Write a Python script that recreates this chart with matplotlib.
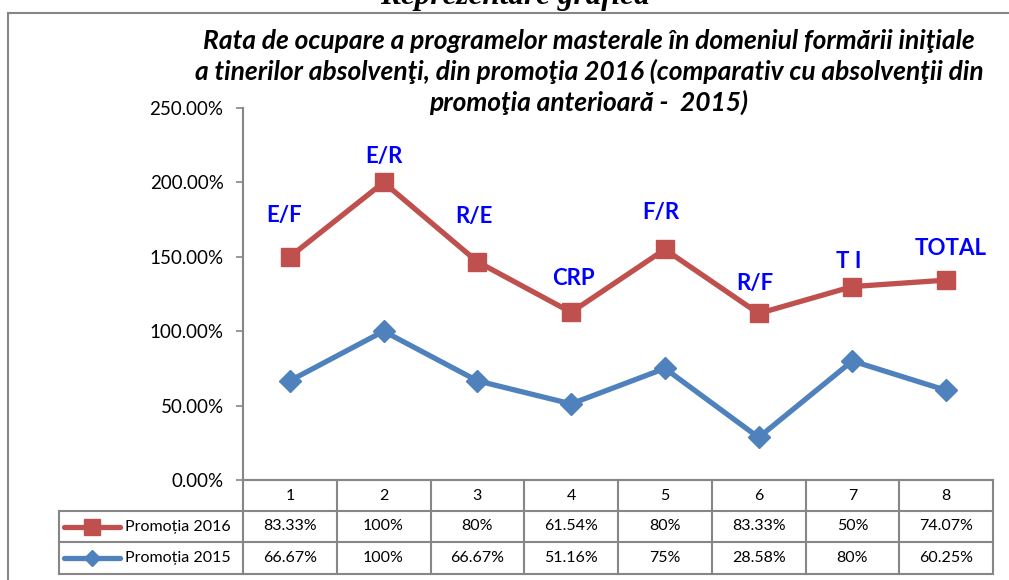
import matplotlib
matplotlib.use("Agg")
import matplotlib.pyplot as plt
import numpy as np

categories = ["1", "2", "3", "4", "5", "6", "7", "8"]
point_labels = ["E/F", "E/R", "R/E", "CRP", "F/R", "R/F", "T I", "TOTAL"]
p2016 = np.array([83.33, 100, 80, 61.54, 80, 83.33, 50, 74.07])
p2015 = np.array([66.67, 100, 66.67, 51.16, 75, 28.58, 80, 60.25])
p2016_text = ["83.33%", "100%", "80%", "61.54%", "80%", "83.33%", "50%", "74.07%"]
p2015_text = ["66.67%", "100%", "66.67%", "51.16%", "75%", "28.58%", "80%", "60.25%"]
series_names = ["Promoția 2016", "Promoția 2015"]
title_lines = ["Rata de ocupare a programelor masterale în domeniul formării iniţiale",
               "a tinerilor absolvenţi, din promoţia 2016 (comparativ cu absolvenţii din",
               "promoţia anterioară -  2015)"]

# excel "stacked line": 2016 series drawn on top of 2015
stacked_2016 = p2015 + p2016

# label offsets in pixels (manual placement, like in the original)
label_dx = [-6, 0, -3, 2, -4, -4, -4, 4]
label_dy = [41, 26, 45, 34, 37, 30, 25, 32]

RED = "#C0504D"
BLUE = "#4F81BD"
GRID = "#868686"

plt.rcParams['font.family'] = ['Lato', 'DejaVu Sans']

W, H = 1009, 580
fig = plt.figure(figsize=(W / 100, H / 100), dpi=100)


def fx(px):
    return px / W


def fy(py):
    return 1 - py / H


# outer chart frame (cut by the page edge on the right / bottom)
fig.add_artist(plt.Line2D([fx(8), fx(1009)], [fy(13), fy(13)], color=GRID, lw=1.5))
fig.add_artist(plt.Line2D([fx(8), fx(8)], [fy(13), 0], color=GRID, lw=1.5))

# cut heading from the document page above the chart
fig.text(fx(515), fy(4), "Reprezentare grafică", family="Liberation Serif",
         fontsize=22.5, fontweight="bold", fontstyle="italic",
         ha="center", va="baseline")

for k, line in enumerate(title_lines):
    fig.text(fx(589), fy(49 + 31 * k), line, fontsize=19, fontweight="bold",
             fontstyle="italic", ha="center", va="baseline")

ax = fig.add_axes([fx(243), fy(480), fx(993) - fx(243), fy(108) - fy(480)])
x = np.arange(len(categories))

ax.plot(x, p2015, color=BLUE, lw=3.8, marker="D", markersize=11, zorder=3)
ax.plot(x, stacked_2016, color=RED, lw=3.8, marker="s", markersize=13, zorder=3)

for i, lab in enumerate(point_labels):
    ax.annotate(lab, (x[i], stacked_2016[i]), xytext=(label_dx[i], label_dy[i]),
                textcoords="offset pixels", ha="center", va="center",
                fontsize=16, fontweight="bold", color="#0000FF")

ax.set_xlim(-0.5, 7.5)
ax.set_ylim(0, 250)
ax.set_yticks(np.arange(0, 251, 50))
ax.set_yticklabels(["%.2f%%" % v for v in np.arange(0, 251, 50)], fontsize=13.5)
ax.set_xticks([])
ax.tick_params(axis="y", length=5, width=1.2, color=GRID, pad=9)
for s in ["top", "right"]:
    ax.spines[s].set_visible(False)
for s in ["left", "bottom"]:
    ax.spines[s].set_color(GRID)
    ax.spines[s].set_linewidth(1.5)

# data table under the plot (drawn in axes coordinates)
tr = ax.transAxes
row_y = [(480 - py) / 372 for py in (480, 511, 542, 574)]
leg_left = (59 - 243) / 750
n = len(categories)
lk = dict(color=GRID, lw=1.5, transform=tr, clip_on=False)

ax.plot([0, 1], [row_y[0], row_y[0]], **lk)
for yy in row_y[1:]:
    ax.plot([leg_left, 1], [yy, yy], **lk)
for i in range(n + 1):
    ax.plot([i / n, i / n], [row_y[0], row_y[3]], **lk)
ax.plot([leg_left, leg_left], [row_y[1], row_y[3]], **lk)

for i in range(n):
    xc = (i + 0.5) / n
    ax.text(xc, (row_y[0] + row_y[1]) / 2, categories[i], transform=tr,
            ha="center", va="center", fontsize=11.5)
    ax.text(xc, (row_y[1] + row_y[2]) / 2, p2016_text[i], transform=tr,
            ha="center", va="center", fontsize=11.5)
    ax.text(xc, (row_y[2] + row_y[3]) / 2, p2015_text[i], transform=tr,
            ha="center", va="center", fontsize=11.5)

# legend keys inside the table
key_x0 = (64 - 243) / 750
key_x1 = (120 - 243) / 750
for r, (name, col, mk, ms) in enumerate(zip(series_names, [RED, BLUE], ["s", "D"], [11, 8])):
    yc = (row_y[r + 1] + row_y[r + 2]) / 2
    ax.plot([key_x0, key_x1], [yc, yc], color=col, lw=3.8, solid_capstyle="round",
            transform=tr, clip_on=False)
    ax.plot([(key_x0 + key_x1) / 2], [yc], color=col, marker=mk, markersize=ms,
            transform=tr, clip_on=False)
    ax.text((125 - 243) / 750, yc, name, transform=tr, ha="left", va="center",
            fontsize=11.5)

plt.savefig("out.png", dpi=100)
plt.close()
